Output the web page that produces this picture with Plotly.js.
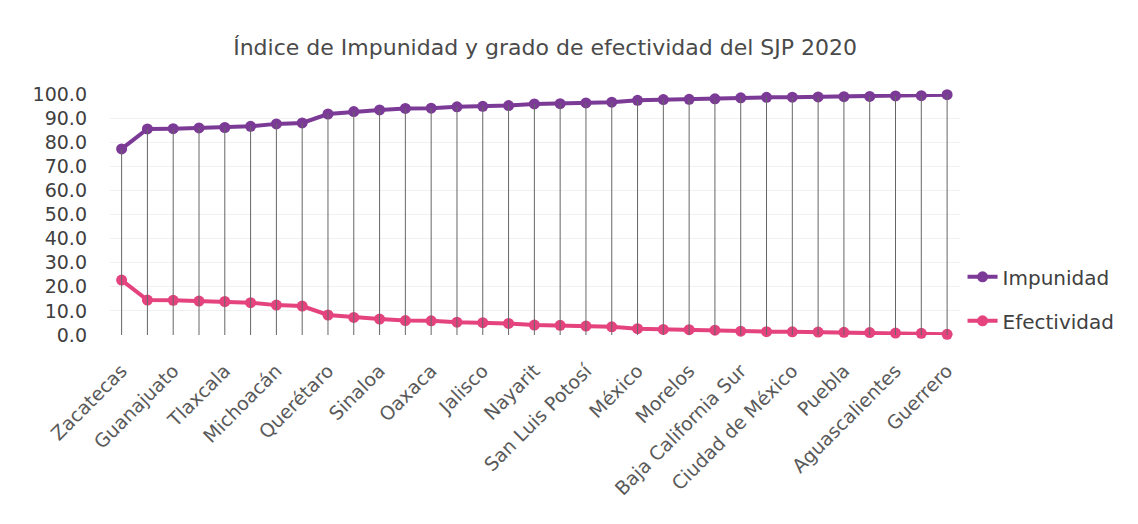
<!DOCTYPE html>
<html>
<head>
<meta charset="utf-8">
<script src="https://cdn.plot.ly/plotly-3.0.1.min.js"></script>
<style>
  html, body { margin: 0; padding: 0; background: #ffffff; }
  #chart { width: 1138px; height: 524px; }
</style>
</head>
<body>
<div id="chart"></div>
<script>
// Entidades ordenadas de menor a mayor índice de impunidad
const entidades = [
  'Zacatecas', 'Chihuahua', 'Guanajuato', 'Colima', 'Tlaxcala', 'Durango',
  'Michoacán', 'Hidalgo', 'Querétaro', 'Sonora', 'Sinaloa', 'Tabasco',
  'Oaxaca', 'Nacional', 'Jalisco', 'Veracruz', 'Nayarit', 'Yucatán',
  'San Luis Potosí', 'Campeche', 'México', 'Chiapas', 'Morelos', 'Coahuila',
  'Baja California Sur', 'Nuevo León', 'Ciudad de México', 'Quintana Roo',
  'Puebla', 'Tamaulipas', 'Aguascalientes', 'Baja California', 'Guerrero'
];

// Índice de impunidad (%)
const impunidad = [
  77.2, 85.5, 85.6, 85.9, 86.1, 86.6, 87.6, 88.0, 91.7, 92.7, 93.4,
  94.0, 94.1, 94.7, 94.9, 95.2, 95.9, 96.0, 96.3, 96.6, 97.4, 97.7,
  97.8, 98.0, 98.4, 98.6, 98.7, 98.8, 98.9, 99.0, 99.2, 99.3, 99.7
];

// Grado de efectividad (%)
const efectividad = [
  22.8, 14.5, 14.4, 14.1, 13.9, 13.4, 12.4, 12.0, 8.3, 7.3, 6.6,
  6.0, 5.9, 5.3, 5.1, 4.8, 4.1, 4.0, 3.7, 3.4, 2.6, 2.3,
  2.2, 2.0, 1.6, 1.4, 1.3, 1.2, 1.1, 1.0, 0.8, 0.7, 0.3
];

// Etiquetas visibles en el eje horizontal (una de cada dos)
const etiquetasEje = [
  'Zacatecas', 'Guanajuato', 'Tlaxcala', 'Michoacán', 'Querétaro', 'Sinaloa',
  'Oaxaca', 'Jalisco', 'Nayarit', 'San Luis Potosí', 'México', 'Morelos',
  'Baja California Sur', 'Ciudad de México', 'Puebla', 'Aguascalientes', 'Guerrero'
];

const yTicks = [0, 10, 20, 30, 40, 50, 60, 70, 80, 90, 100];

const morado = '#7b3a96';
const rosa = '#e4437e';
const fuente = '"DejaVu Sans", "Noto Sans", sans-serif';

const trazas = [
  {
    x: entidades, y: impunidad, name: 'Impunidad', type: 'scatter',
    mode: 'lines+markers', legendgroup: 'imp',
    line: { color: morado, width: 4 },
    marker: { color: morado, size: 11, symbol: 'circle' },
    cliponaxis: false
  },
  {
    x: entidades, y: efectividad, name: 'Efectividad', type: 'scatter',
    mode: 'lines+markers', legendgroup: 'efe',
    line: { color: rosa, width: 4 },
    marker: { color: rosa, size: 11, symbol: 'circle' },
    cliponaxis: false
  },
  {
    // líneas de caída desde cada punto de impunidad hasta el eje
    x: entidades, y: impunidad, type: 'scatter', mode: 'markers',
    showlegend: false, hoverinfo: 'skip',
    marker: { size: 1, opacity: 0 },
    error_y: {
      type: 'data', symmetric: false,
      array: impunidad.map(() => 0), arrayminus: impunidad,
      color: '#666666', thickness: 1, width: 0
    }
  }
];

const layout = {
  width: 1138, height: 524,
  paper_bgcolor: '#ffffff', plot_bgcolor: '#ffffff',
  margin: { l: 110, r: 178, t: 94, b: 189 },
  title: {
    text: 'Índice de Impunidad y grado de efectividad del SJP 2020',
    font: { family: fuente, size: 22, color: '#4a4a4a' },
    x: 0.479, xanchor: 'center', y: 0.91, yanchor: 'middle'
  },
  xaxis: {
    type: 'category',
    range: [-0.45, 32.5],
    tickmode: 'array', tickvals: etiquetasEje, ticktext: etiquetasEje,
    tickangle: -45,
    tickfont: { family: fuente, size: 19, color: '#5a5a5a' },
    ticklabelstandoff: 20,
    showgrid: false, showline: false, zeroline: false, ticks: ''
  },
  yaxis: {
    range: [0, 100],
    tickmode: 'array', tickvals: yTicks,
    tickformat: '.1f',
    tickfont: { family: fuente, size: 19, color: '#404040' },
    showgrid: true, gridcolor: '#f0f0f0', gridwidth: 1,
    zeroline: false, showline: false, ticks: '',
    ticklabelstandoff: 22
  },
  showlegend: true,
  legend: {
    x: 1.003, xanchor: 'left', y: 0.15, yanchor: 'middle',
    traceorder: 'grouped', tracegroupgap: 15,
    font: { family: fuente, size: 20, color: '#404040' },
    bgcolor: 'rgba(0,0,0,0)'
  }
};

Plotly.newPlot('chart', trazas, layout, { displayModeBar: false, staticPlot: true });
</script>
</body>
</html>
